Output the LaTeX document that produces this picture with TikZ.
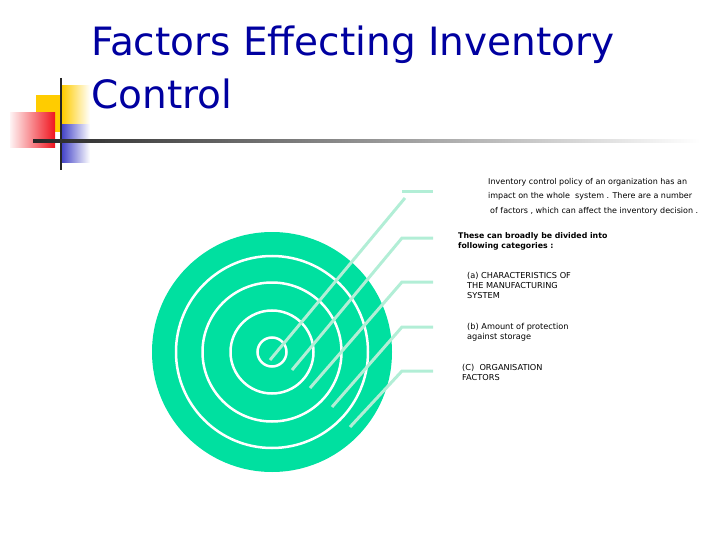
\documentclass[tikz,border=0pt]{standalone}
\usepackage{fontspec}
\setmainfont{DejaVu Sans}
\usepackage{tikz}
\usetikzlibrary{positioning,calc}
\definecolor{titleblue}{RGB}{0,0,160}
\definecolor{targetgreen}{RGB}{0,224,160}
\definecolor{leadermint}{RGB}{178,238,214}
\definecolor{decoyellow}{RGB}{255,204,0}
\definecolor{decored}{RGB}{240,20,30}
\definecolor{decoblue}{RGB}{70,70,200}
\tikzset{
  leader/.style={draw=leadermint, line width=3pt},
  ring/.style={draw=white, line width=2.5pt},
  smalltext/.style={anchor=north west, inner sep=0pt, align=left, font=\fontsize{8}{14.5}\selectfont},
  cattext/.style={anchor=north west, inner sep=0pt, align=left, font=\fontsize{8.2}{10}\selectfont}
}

\begin{document}
\begin{tikzpicture}[x=1pt,y=-1pt]
\useasboundingbox (0,0) rectangle (720,540);

% Corner decoration
\fill[decoyellow] (36,95) rectangle (62,132);
\shade[left color=decoyellow, right color=white] (62,86) rectangle (90,125);
\shade[left color=decored!5, right color=decored] (10,113) rectangle (55,148);
\shade[left color=decoblue, right color=white] (62,125) rectangle (90,163);
\draw[line width=2pt, black!85] (61,78) -- (61,170);
\shade[left color=black!85, right color=white] (33,140) rectangle (700,142.5);

% Title
\node[anchor=north west, inner sep=0pt, font=\fontsize{39}{53}\selectfont, text=titleblue, align=left] (title) at (91,26) {Factors Effecting Inventory\\Control};

% Target
\fill[targetgreen] (272,352) circle (120);
\foreach \r in {96,69.5,41.5,14.5}
  \draw[ring] (272,352) circle (\r);

% Leader lines
\coordinate (l1) at (270,360);
\coordinate (l2) at (292,370);
\coordinate (l3) at (310,388);
\coordinate (l4) at (332,407);
\coordinate (l5) at (350,427);
\coordinate (k1) at (405,198);
\coordinate (k2) at (402,238);
\coordinate (k3) at (402,282);
\coordinate (k4) at (402,327);
\coordinate (k5) at (402,371);
\coordinate (h1) at (402,192);
\coordinate (e1) at (433,192);
\coordinate (e2) at (433,238);
\coordinate (e3) at (433,282);
\coordinate (e4) at (433,327);
\coordinate (e5) at (433,371);
\draw[leader] (h1) -- (e1);
\draw[leader] (l1) -- (k1);
\foreach \i in {2,...,5}
  \draw[leader] (l\i) -- (k\i) -- (e\i);

% Text
\node[smalltext] (intro) at (488,178) {Inventory control policy of an organization has an\\impact on the whole\ \ system . There are a number\\\hspace{2pt}of factors , which can affect the inventory decision .};
\node[cattext, font=\fontsize{7.8}{10}\selectfont\bfseries] (divided) at (458,232) {These can broadly be divided into\\following categories :};
\node[cattext] (cata) at (467,272) {(a) CHARACTERISTICS OF\\THE MANUFACTURING\\SYSTEM};
\node[cattext] (catb) at (467,323) {(b) Amount of protection\\against storage};
\node[cattext] (catc) at (462,364) {(C)\ \ ORGANISATION\\FACTORS};

\end{tikzpicture}
\end{document}
